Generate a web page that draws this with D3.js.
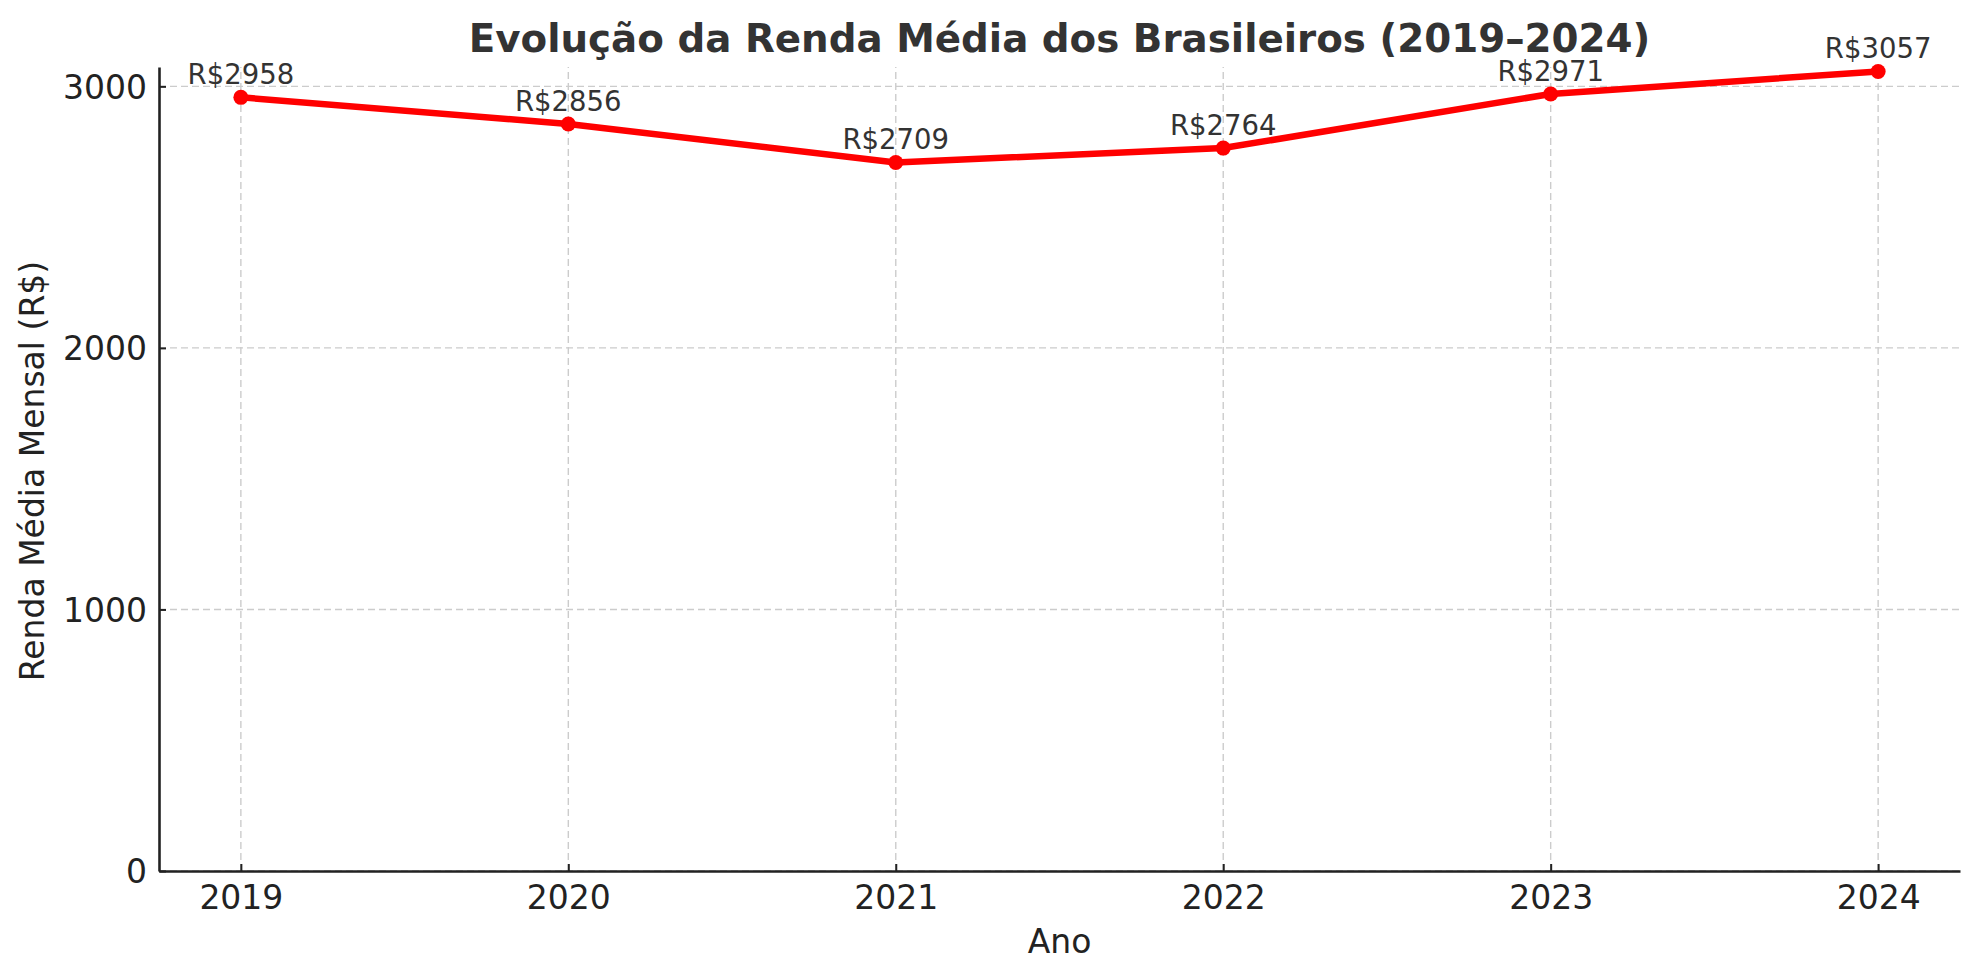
<!DOCTYPE html>
<html>
<head>
<meta charset="utf-8">
<script src="https://cdn.jsdelivr.net/npm/d3@7"></script>
<style>
  body { margin: 0; background: #fff; }
  svg { display: block; font-family: "DejaVu Sans", sans-serif; }
</style>
</head>
<body>
<div id="chart"></div>
<script>
// dados
var anos = [2019, 2020, 2021, 2022, 2023, 2024];
var renda = [2958, 2856, 2709, 2764, 2971, 3057];
var yTicks = [0, 1000, 2000, 3000];

var width = 1980, height = 979;
var margin = { top: 67, right: 20, bottom: 108, left: 159 };
var innerW = width - margin.left - margin.right;
var innerH = height - margin.top - margin.bottom;

var svg = d3.select('#chart').append('svg')
    .attr('width', width)
    .attr('height', height);

var x = d3.scaleLinear()
    .domain([2018.75, 2024.25])
    .range([margin.left, margin.left + innerW]);

var y = d3.scaleLinear()
    .domain([0, 3074])
    .range([margin.top + innerH, margin.top]);

// grade
var grid = svg.append('g').attr('class', 'grid');
grid.selectAll('line.gx').data(anos).enter().append('line')
    .attr('x1', function(d) { return x(d); })
    .attr('x2', function(d) { return x(d); })
    .attr('y1', y.range()[0])
    .attr('y2', y.range()[1])
    .attr('stroke', '#cccccc')
    .attr('stroke-width', 1.4)
    .attr('stroke-dasharray', '7,4');
grid.selectAll('line.gy').data(yTicks).enter().append('line')
    .attr('x1', x.range()[0])
    .attr('x2', x.range()[1])
    .attr('y1', function(d) { return y(d); })
    .attr('y2', function(d) { return y(d); })
    .attr('stroke', '#cccccc')
    .attr('stroke-width', 1.4)
    .attr('stroke-dasharray', '7,4');

// eixos
var xAxis = d3.axisBottom(x).tickValues(anos).tickFormat(d3.format('d'))
    .tickSizeInner(-7).tickSizeOuter(0).tickPadding(14);
var yAxis = d3.axisLeft(y).tickValues(yTicks).tickFormat(d3.format('d'))
    .tickSizeInner(-7).tickSizeOuter(0).tickPadding(12);

var gx = svg.append('g')
    .attr('transform', 'translate(0,' + y(0) + ')')
    .call(xAxis);
var gy = svg.append('g')
    .attr('transform', 'translate(' + x.range()[0] + ',0)')
    .call(yAxis);

[gx, gy].forEach(function(g) {
    g.select('.domain').attr('stroke', '#222').attr('stroke-width', 2.6);
    g.selectAll('.tick line').attr('stroke', '#222').attr('stroke-width', 2);
    g.selectAll('.tick text')
        .attr('fill', '#222')
        .style('font-size', '33px')
        .style('font-family', '"DejaVu Sans", sans-serif');
});
gy.selectAll('.tick text').attr('dy', '0.36em');
gx.selectAll('.tick text').attr('dy', '0.72em');

// linha
var line = d3.line()
    .x(function(d, i) { return x(anos[i]); })
    .y(function(d) { return y(d); });

svg.append('path')
    .datum(renda)
    .attr('d', line)
    .attr('fill', 'none')
    .attr('stroke', '#ff0000')
    .attr('stroke-width', 6.5)
    .attr('stroke-linejoin', 'round');

svg.selectAll('circle.pt').data(renda).enter().append('circle')
    .attr('class', 'pt')
    .attr('cx', function(d, i) { return x(anos[i]); })
    .attr('cy', function(d) { return y(d); })
    .attr('r', 7.5)
    .attr('fill', '#ff0000');

// rótulos
svg.selectAll('text.lbl').data(renda).enter().append('text')
    .attr('class', 'lbl')
    .attr('x', function(d, i) { return x(anos[i]); })
    .attr('y', function(d) { return y(d) - 13; })
    .attr('text-anchor', 'middle')
    .attr('fill', '#333')
    .style('font-size', '27.5px')
    .text(function(d) { return 'R$' + d; });

// títulos
svg.append('text')
    .attr('x', (x.range()[0] + x.range()[1]) / 2)
    .attr('y', 52)
    .attr('text-anchor', 'middle')
    .attr('fill', '#333')
    .style('font-size', '38.8px')
    .style('font-weight', 'bold')
    .text('Evolução da Renda Média dos Brasileiros (2019–2024)');

svg.append('text')
    .attr('x', (x.range()[0] + x.range()[1]) / 2)
    .attr('y', 953)
    .attr('text-anchor', 'middle')
    .attr('fill', '#222')
    .style('font-size', '33px')
    .text('Ano');

svg.append('text')
    .attr('transform', 'translate(44,' + ((y.range()[0] + y.range()[1]) / 2 + 2) + ') rotate(-90)')
    .attr('text-anchor', 'middle')
    .attr('fill', '#222')
    .style('font-size', '33px')
    .text('Renda Média Mensal (R$)');
</script>
</body>
</html>
